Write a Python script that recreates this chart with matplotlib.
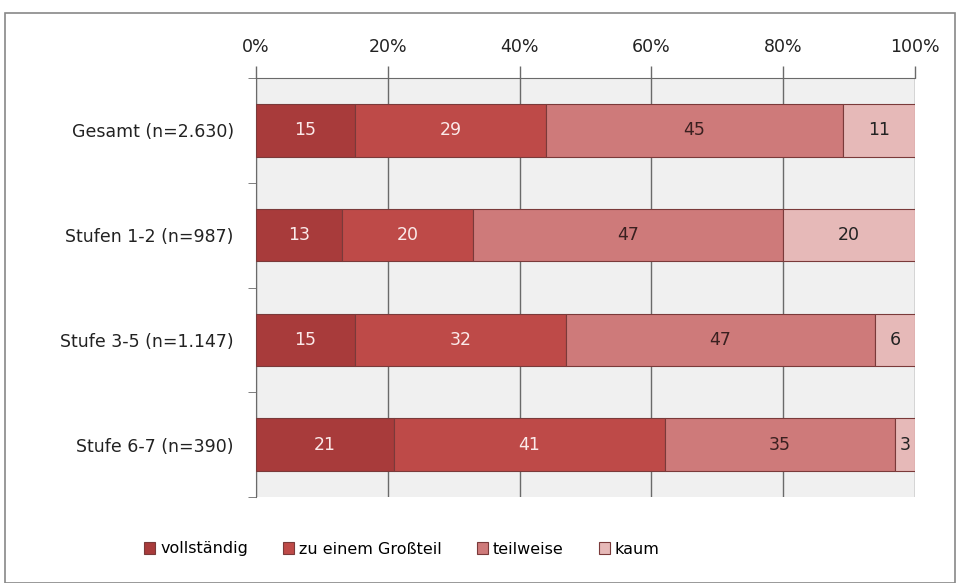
import matplotlib
matplotlib.use("Agg")
import matplotlib.pyplot as plt
from matplotlib.patches import Rectangle
import numpy as np

categories = ["Gesamt (n=2.630)", "Stufen 1-2 (n=987)", "Stufe 3-5 (n=1.147)", "Stufe 6-7 (n=390)"]
series_names = ["vollständig", "zu einem Großteil", "teilweise", "kaum"]
vollstaendig = [15, 13, 15, 21]
grossteil = [29, 20, 32, 41]
teilweise = [45, 47, 47, 35]
kaum = [11, 20, 6, 3]
xticks = [0, 20, 40, 60, 80, 100]
xtick_labels = ["0%", "20%", "40%", "60%", "80%", "100%"]

colors = ["#A83B3B", "#BE4A48", "#CE7A7A", "#E6B9B8"]
label_colors = ["#fbeaea", "#fbeaea", "#3a2020", "#222222"]

plt.rcParams['font.family'] = ['DejaVu Sans']

fig = plt.figure(figsize=(9.62, 5.83), dpi=100)
fig.patch.set_facecolor("white")
fig.patches.append(Rectangle((5/962, 0), 950/962, 1 - 13/583, transform=fig.transFigure,
                             fill=False, edgecolor="#888888", linewidth=1.2))

ax = fig.add_axes([256/962, 1 - 497/583, 659/962, (497 - 78)/583])
ax.set_facecolor("#F0F0F0")

data = [vollstaendig, grossteil, teilweise, kaum]
y = np.arange(len(categories))
left = np.zeros(len(categories))
for vals, name, col, lc in zip(data, series_names, colors, label_colors):
    vals = np.array(vals, dtype=float)
    ax.barh(y, vals, left=left, height=0.5, color=col, edgecolor="#7a3a3a",
            linewidth=0.8, label=name, zorder=3)
    for yi, l, v in zip(y, left, vals):
        ax.text(l + v / 2, yi, f"{int(v)}", ha="center", va="center", color=lc,
                fontsize=12.5, zorder=4)
    left += vals

ax.set_xlim(0, 100)
ax.set_ylim(len(categories) - 0.5, -0.5)
ax.xaxis.tick_top()
ax.set_xticks(xticks)
ax.set_xticklabels(xtick_labels, fontsize=12.5, color="#222222")
ax.tick_params(axis="x", length=9, width=1.0, color="#6a6a6a", direction="out", pad=7)
ax.grid(axis="x", color="#6a6a6a", linewidth=1.0, zorder=0)

ax.set_yticks(y)
ax.set_yticklabels(categories, fontsize=12.5, color="#222222")
ax.tick_params(axis="y", length=0, pad=16)
ax.set_yticks(np.arange(len(categories) + 1) - 0.5, minor=True)
ax.tick_params(axis="y", which="minor", length=6, color="#6a6a6a", direction="out")

for s in ["right", "bottom"]:
    ax.spines[s].set_visible(False)
ax.spines["top"].set_color("#6a6a6a")
ax.spines["left"].set_color("#6a6a6a")

leg = fig.legend(loc="center", bbox_to_anchor=(402/962, 1 - 549/583), ncol=4,
                 frameon=False, fontsize=11.5, handlelength=0.7, handleheight=0.8,
                 handletextpad=0.3, columnspacing=2.2)
plt.savefig("out.png", dpi=100)
